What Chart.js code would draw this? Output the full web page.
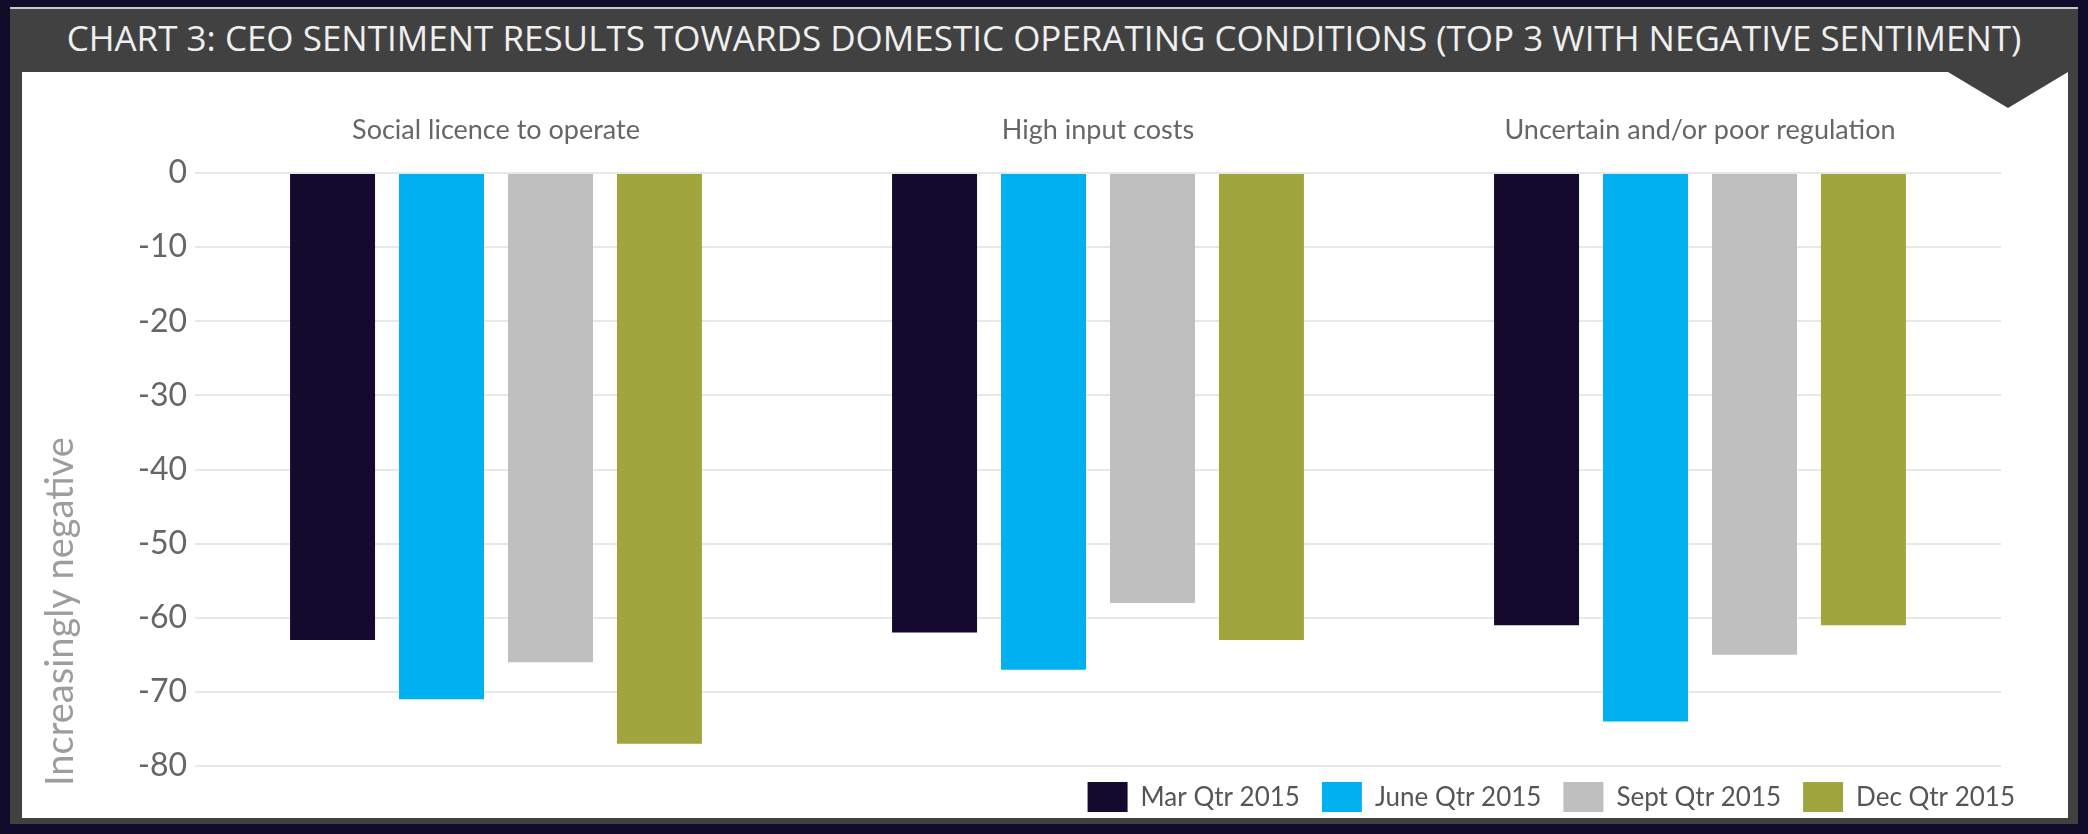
<!DOCTYPE html>
<html>
<head>
<meta charset="utf-8">
<title>CEO sentiment - domestic operating conditions</title>
<script src="https://cdn.jsdelivr.net/npm/chart.js@4.4.1/dist/chart.umd.min.js"></script>
<style>
  html, body { margin: 0; padding: 0; }
  body { width: 2088px; height: 834px; background: #120c2b; position: relative; overflow: hidden; }
  .frame { position: absolute; left: 10px; top: 7px; width: 2068px; height: 817px; background: #414141; border-top: 2px solid #c9c9c9; box-sizing: border-box; }
  .title { position: absolute; left: 0; top: 0; width: 100%; height: 63px; line-height: 58px; text-align: center;
           color: #efefef; font-family: "Open Sans", sans-serif; font-size: 35px; white-space: nowrap; }
  .panel { position: absolute; left: 22px; top: 72px; width: 2046px; height: 746px; background: #fff; }
  .pointer { position: absolute; left: 1948px; top: 72px; width: 0; height: 0;
             border-left: 60px solid transparent; border-right: 60px solid transparent; border-top: 36px solid #414141; }
</style>
</head>
<body>
<div class="frame">
  <div class="title">CHART 3: CEO SENTIMENT RESULTS TOWARDS DOMESTIC OPERATING CONDITIONS (TOP 3 WITH NEGATIVE SENTIMENT)</div>
</div>
<div class="panel"><canvas id="chart3" width="2046" height="746"></canvas></div>
<div class="pointer"></div>
<script>
// data
const categories = ['Social licence to operate', 'High input costs', 'Uncertain and/or poor regulation'];
const quarters = ['Mar Qtr 2015', 'June Qtr 2015', 'Sept Qtr 2015', 'Dec Qtr 2015'];
const marQtr = [-63, -62, -61];
const juneQtr = [-71, -67, -74];
const septQtr = [-66, -58, -65];
const decQtr = [-77, -63, -61];
const yMin = -80;
const yMax = 0;
const yStep = 10;

const quarterColors = ['#130a2d', '#00b0ef', '#bfbfbf', '#a0a53d'];

// legend sits lower-right, past the plot edge; axis title hangs a bit below the plot
const layoutNudge = {
  id: 'layoutNudge',
  afterLayout(chart) {
    const lg = chart.legend;
    lg.top -= 6; lg.bottom -= 6;
    lg.left += 36; lg.right += 36;
    const y = chart.scales.y;
    if (!y._titleShifted) {
      const orig = y.drawTitle;
      y.drawTitle = function() {
        const b = this.bottom;
        this.bottom = b + 20;
        orig.call(this);
        this.bottom = b;
      };
      y._titleShifted = true;
    }
  }
};

const font = 'Lato, "Open Sans", sans-serif';
const ctx = document.getElementById('chart3').getContext('2d');

new Chart(ctx, {
  type: 'bar',
  data: {
    labels: categories,
    datasets: [marQtr, juneQtr, septQtr, decQtr].map((vals, i) => ({
      label: quarters[i],
      data: vals,
      backgroundColor: quarterColors[i],
      borderWidth: 0,
      categoryPercentage: 0.724,
      barPercentage: 0.78
    }))
  },
  options: {
    responsive: false,
    animation: false,
    layout: { padding: { left: 0, right: 67, top: 0, bottom: 0 } },
    plugins: {
      tooltip: { enabled: false },
      legend: {
        position: 'bottom',
        align: 'end',
        maxHeight: 52,
        labels: {
          boxWidth: 40,
          boxHeight: 31,
          padding: 22,
          color: '#555',
          font: { family: font, size: 26 }
        }
      }
    },
    scales: {
      x: {
        position: 'top',
        grid: { display: false, drawTicks: false },
        border: { display: false },
        ticks: { color: '#666', padding: 27, font: { family: font, size: 27 } },
        afterFit(scale) { scale.height = 101; }
      },
      y: {
        min: yMin,
        max: yMax,
        grid: { color: '#e8e8e8', lineWidth: 2, drawTicks: false },
        border: { display: false },
        ticks: { stepSize: yStep, color: '#666', padding: 8, font: { family: font, size: 32 } },
        title: {
          display: true,
          text: 'Increasingly negative',
          align: 'start',
          color: '#9d9d9d',
          padding: { top: 16 },
          font: { family: font, size: 38 }
        },
        afterFit(scale) { scale.width = 173; }
      }
    }
  },
  plugins: [layoutNudge]
});
</script>
</body>
</html>
